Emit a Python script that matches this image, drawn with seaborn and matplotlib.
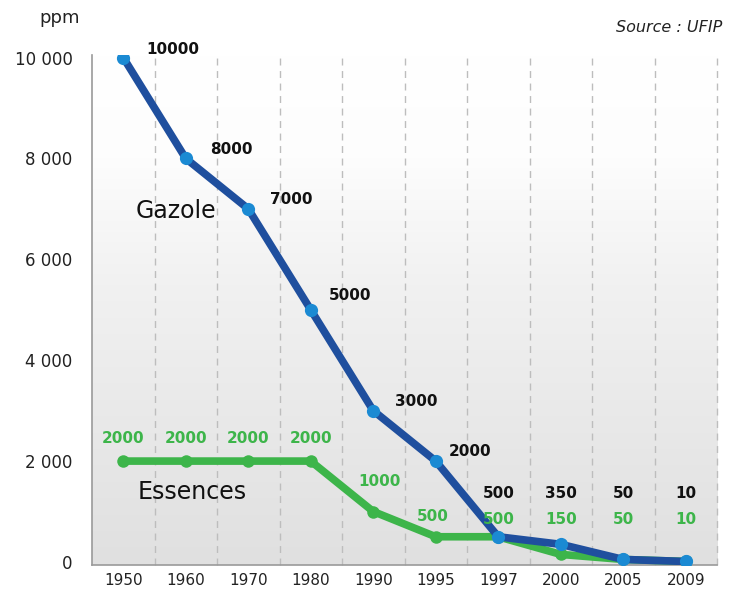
import numpy as np
import pandas as pd
import matplotlib
matplotlib.use("Agg")
import matplotlib.pyplot as plt
import seaborn as sns
from matplotlib.colors import LinearSegmentedColormap

years = ["1950", "1960", "1970", "1980", "1990", "1995", "1997", "2000", "2005", "2009"]
gazole = [10000, 8000, 7000, 5000, 3000, 2000, 500, 350, 50, 10]
essences = [2000, 2000, 2000, 2000, 1000, 500, 500, 150, 50, 10]
gazole_labels = ["10000", "8000", "7000", "5000", "3000", "2000", "500", "350", "50", "10"]
essences_labels = ["2000", "2000", "2000", "2000", "1000", "500", "500", "150", "50", "10"]
yticks = [0, 2000, 4000, 6000, 8000, 10000]
ytick_labels = ["0", "2 000", "4 000", "6 000", "8 000", "10 000"]

sns.set_theme(style="white")
plt.rcParams['font.family'] = ['DejaVu Sans']

df = pd.DataFrame({"pos": np.arange(len(years)), "year": years,
                   "Gazole": gazole, "Essences": essences})

fig = plt.figure(figsize=(7.31, 5.92), dpi=100)
ax = fig.add_axes([92/731, 1-565/592, (717-92)/731, (565-55)/592])

ax.set_xlim(-0.5, len(years) - 0.5)
ax.set_ylim(-60, 10050)

# background gradient
cmap = LinearSegmentedColormap.from_list("bg", [(0, "#e0e0e0"), (0.55, "#f1f1f1"), (0.8, "#fdfdfd"), (1, "#ffffff")])
grad = np.linspace(0, 1, 256).reshape(-1, 1)
ax.imshow(grad, aspect="auto", cmap=cmap, origin="lower",
          extent=[-0.5, len(years) - 0.5, -60, 10050], zorder=0)

# dashed separators
for i in range(len(years)):
    ax.axvline(i + 0.5, color="#bdbdbd", lw=1.0, ls=(0, (5, 4)), zorder=1, clip_on=False)

green = "#3db54a"
blue_line = "#1f4f9e"
blue_marker = "#1b8ad3"

sns.lineplot(data=df, x="pos", y="Essences", ax=ax, color=green, lw=5.5,
             marker="o", markersize=9, markeredgewidth=0, markerfacecolor=green, zorder=3)
sns.lineplot(data=df, x="pos", y="Gazole", ax=ax, color=blue_line, lw=5.5,
             marker="o", markersize=9.5, markeredgewidth=0, markerfacecolor=blue_marker, zorder=4)

# value labels (offsets in pixels)
g_off = [(50, 8), (46, 9), (43, 9), (39, 14), (43, 9), (34, 10), None, None, None, None]
for i, (v, lab) in enumerate(zip(gazole, gazole_labels)):
    if g_off[i] is not None:
        ax.annotate(lab, xy=(i, v), xytext=g_off[i], textcoords="offset pixels",
                    ha="center", va="center", fontsize=11, fontweight="bold", color="#111111", zorder=5)
    else:
        ax.annotate(lab, xy=(i, 1350), ha="center", va="center", fontsize=11,
                    fontweight="bold", color="#111111", zorder=5)
e_off = [(0, 23), (0, 23), (0, 23), (0, 23), (6, 30), (-3, 20), None, None, None, None]
for i, (v, lab) in enumerate(zip(essences, essences_labels)):
    if e_off[i] is not None:
        ax.annotate(lab, xy=(i, v), xytext=e_off[i], textcoords="offset pixels",
                    ha="center", va="center", fontsize=11, fontweight="bold", color=green, zorder=5)
    else:
        ax.annotate(lab, xy=(i, 840), ha="center", va="center", fontsize=11,
                    fontweight="bold", color=green, zorder=5)

ax.text(0.85, 6950, "Gazole", fontsize=17, ha="center", va="center", color="#111111", zorder=5)
ax.text(1.1, 1380, "Essences", fontsize=17, ha="center", va="center", color="#111111", zorder=5)

ax.set_xticks(df["pos"])
ax.set_xticklabels(years, fontsize=11, color="#222222")
ax.set_yticks(yticks)
ax.set_yticklabels(ytick_labels, fontsize=12, color="#222222")
ax.tick_params(axis="both", length=0, pad=6)
ax.tick_params(axis="y", pad=14)
ax.set_xlabel("")
ax.set_ylabel("")

for s in ["top", "right"]:
    ax.spines[s].set_visible(False)
for s in ["left", "bottom"]:
    ax.spines[s].set_color("#9a9a9a")
    ax.spines[s].set_linewidth(1.2)

fig.text(80/731, 1-18/592, "ppm", ha="right", va="center", fontsize=13, color="#222222")
fig.text(722/731, 1-27/592, "Source : UFIP", ha="right", va="center", fontsize=11.5,
         style="italic", color="#222222")

fig.savefig("out.png", dpi=100)
